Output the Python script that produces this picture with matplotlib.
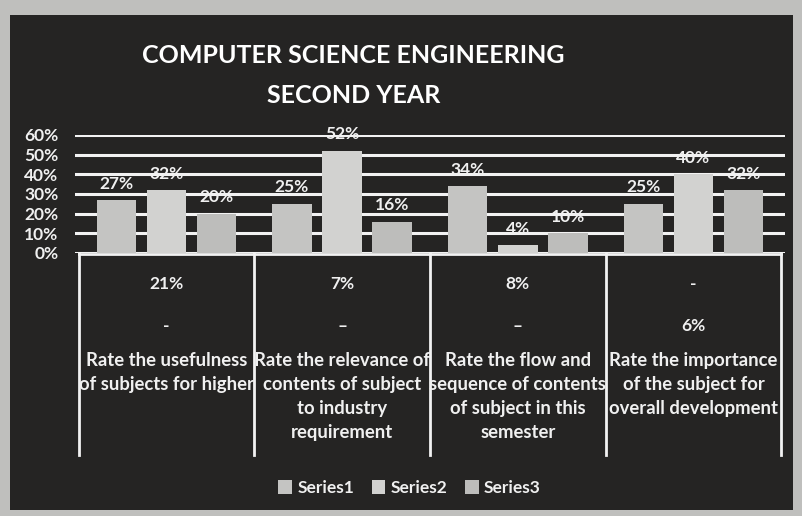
import matplotlib.pyplot as plt
import numpy as np
from matplotlib.patches import Rectangle
import matplotlib.transforms as mtransforms

plt.rcParams['font.family'] = ['Lato', 'DejaVu Sans']

categories = ['Rate the usefulness\nof subjects for higher',
              'Rate the relevance of\ncontents of subject\nto industry\nrequirement',
              'Rate the flow and\nsequence of contents\nof subject in this\nsemester',
              'Rate the importance\nof the subject for\noverall development']
series1 = [27, 25, 34, 25]
series2 = [32, 52, 4, 40]
series3 = [20, 16, 10, 32]
top_row = ['21%', '7%', '8%', '-']
mid_row = ['-', '–', '–', '6%']
series_names = ['Series1', 'Series2', 'Series3']
bar_colors = ['#c4c4c2', '#d2d2d0', '#bdbdbb']
yticks = [0, 10, 20, 30, 40, 50, 60]

bg = '#252423'
txt = '#f0f0f0'
fig = plt.figure(figsize=(8.03, 5.16), dpi=100)
fig.patch.set_facecolor('#bfbfbd')
fig.add_artist(Rectangle((0.012, 0.012), 0.976, 0.958, transform=fig.transFigure,
                         facecolor=bg, edgecolor='none', zorder=-5))

ax = fig.add_axes([0.0934, 0.5097, 0.884, 0.2287])
ax.set_facecolor(bg)
x = np.arange(len(categories))
w = 0.225
gap = 0.06
for k, (vals, col) in enumerate(zip([series1, series2, series3], bar_colors)):
    pos = x + (k - 1) * (w + gap)
    ax.bar(pos, vals, width=w, color=col, label=series_names[k], zorder=3)
    for xi, v in zip(pos, vals):
        ax.annotate(f'{v}%', (xi, v), xytext=(0, 6), textcoords='offset points',
                    ha='center', va='bottom', color=txt, fontsize=12.5,
                    fontweight='bold', zorder=4)

ax.set_xlim(-0.52, len(categories) - 0.48)
ax.set_ylim(0, 60)
ax.set_yticks(yticks)
ax.set_yticklabels([f'{t}%' for t in yticks], color=txt, fontsize=12.5, fontweight='bold')
ax.yaxis.grid(True, color='#f2f2f2', linewidth=2.2, zorder=1)
ax.set_axisbelow(True)
ax.tick_params(axis='y', length=0, pad=12)
ax.set_xticks([])
for s in ax.spines.values():
    s.set_visible(False)

# category table below the axis
trans = mtransforms.blended_transform_factory(ax.transData, ax.transAxes)
bottom = -1.71
for b in np.arange(len(categories) + 1) - 0.5:
    ax.plot([b, b], [0, bottom], color='#f2f2f2', lw=2, transform=trans, clip_on=False)
ax.plot([-0.5, len(categories) - 0.5], [-0.01, -0.01], color='#f2f2f2', lw=2,
        transform=trans, clip_on=False)
for i in range(len(categories)):
    ax.text(x[i], -0.26, top_row[i], transform=trans, ha='center', va='center',
            color=txt, fontsize=12.5, fontweight='bold')
    ax.text(x[i], -0.62, mid_row[i], transform=trans, ha='center', va='center',
            color=txt, fontsize=12.5, fontweight='bold')
    ax.text(x[i], -0.84, categories[i], transform=trans, ha='center', va='top',
            color=txt, fontsize=13.3, fontweight='bold', linespacing=1.5)

fig.text(0.44, 0.893, 'COMPUTER SCIENCE ENGINEERING', ha='center', va='center',
         color='white', fontsize=18, fontweight='bold')
fig.text(0.44, 0.815, 'SECOND YEAR', ha='center', va='center',
         color='white', fontsize=18, fontweight='bold')

leg = fig.legend(loc='center', bbox_to_anchor=(0.51, 0.054), ncol=3, frameon=False,
                 fontsize=12.5, handlelength=0.8, handleheight=0.8, handletextpad=0.3,
                 columnspacing=1.0)
for t in leg.get_texts():
    t.set_color(txt)
    t.set_fontweight('bold')

fig.savefig('out.png', dpi=100, facecolor=fig.get_facecolor())
